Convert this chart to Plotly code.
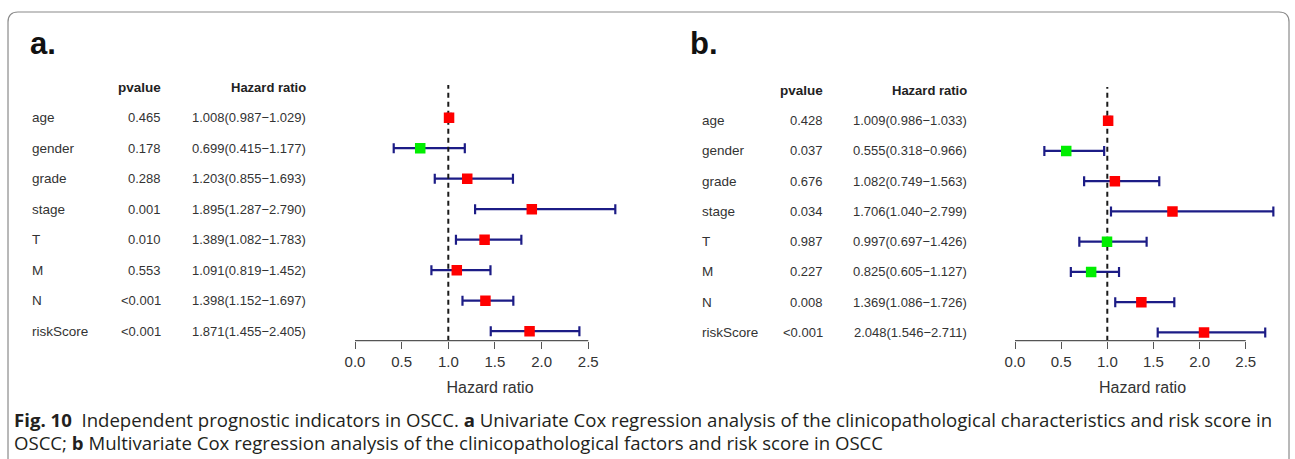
import plotly.graph_objects as go

W, H = 1295, 459

# ---------------- data ----------------
variables = ["age", "gender", "grade", "stage", "T", "M", "N", "riskScore"]

a_pvalue = ["0.465", "0.178", "0.288", "0.001", "0.010", "0.553", "<0.001", "<0.001"]
a_hr = [1.008, 0.699, 1.203, 1.895, 1.389, 1.091, 1.398, 1.871]
a_low = [0.987, 0.415, 0.855, 1.287, 1.082, 0.819, 1.152, 1.455]
a_high = [1.029, 1.177, 1.693, 2.790, 1.783, 1.452, 1.697, 2.405]

b_pvalue = ["0.428", "0.037", "0.676", "0.034", "0.987", "0.227", "0.008", "<0.001"]
b_hr = [1.009, 0.555, 1.082, 1.706, 0.997, 0.825, 1.369, 2.048]
b_low = [0.986, 0.318, 0.749, 1.040, 0.697, 0.605, 1.086, 1.546]
b_high = [1.033, 0.966, 1.563, 2.799, 1.426, 1.127, 1.726, 2.711]

tick_vals = [0, 0.5, 1.0, 1.5, 2.0, 2.5]
tick_text = ["0.0", "0.5", "1.0", "1.5", "2.0", "2.5"]

caption_1 = ("<b>Fig.\u00a010</b>\u00a0\u00a0Independent prognostic indicators in OSCC. <b>a</b> Univariate Cox regression "
             "analysis of the clinicopathological characteristics and risk score in")
caption_2 = "OSCC; <b>b</b> Multivariate Cox regression analysis of the clinicopathological factors and risk score in OSCC"

# ---------------- style ----------------
FONT = "Liberation Sans, Arial, sans-serif"
TXT = 13
CI_COLOR = "#1c1c86"
RED = "#ff0000"
GREEN = "#00ee00"


def px_x(p):
    return p / W


def px_y(p):
    return 1 - p / H


fig = go.Figure()

panels = [
    dict(name="a", pv=a_pvalue, hr=a_hr, lo=a_low, hi=a_high, xa="x", ya="y",
         xdom=(340, 640), x0px=355, ppu=93.3, ybot=340.7, ytop=85, row0=117.7, dy=30.5,
         lab_x=30, pv_x=163, hr_x=308, letter_x=28),
    dict(name="b", pv=b_pvalue, hr=b_hr, lo=b_low, hi=b_high, xa="x2", ya="y2",
         xdom=(1000, 1285), x0px=1015, ppu=92.3, ybot=340.7, ytop=87, row0=120.7, dy=30.25,
         lab_x=700, pv_x=825, hr_x=969, letter_x=688),
]

annotations = []
shapes = []
layout_axes = {}

for k, p in enumerate(panels):
    rows = list(range(len(variables)))
    hr, lo, hi = p["hr"], p["lo"], p["hi"]
    # CI bars
    fig.add_trace(go.Scatter(
        x=hr, y=rows, mode="markers", xaxis=p["xa"], yaxis=p["ya"],
        marker=dict(size=1, color="rgba(0,0,0,0)"),
        error_x=dict(type="data", symmetric=False,
                     array=[h - v for h, v in zip(hi, hr)],
                     arrayminus=[v - l for v, l in zip(hr, lo)],
                     color=CI_COLOR, thickness=2.2, width=5),
        showlegend=False, hoverinfo="skip"))
    # reference line at HR = 1
    yr_bot = (p["ybot"] - p["row0"]) / p["dy"]
    yr_top = (p["ytop"] - p["row0"]) / p["dy"]
    fig.add_trace(go.Scatter(
        x=[1, 1], y=[yr_bot, yr_top], mode="lines", xaxis=p["xa"], yaxis=p["ya"],
        line=dict(color="#1a1a1a", width=2, dash="5px,4px"),
        showlegend=False, hoverinfo="skip"))
    # point estimates
    fig.add_trace(go.Scatter(
        x=hr, y=rows, mode="markers", xaxis=p["xa"], yaxis=p["ya"],
        marker=dict(symbol="square", size=10.5,
                    color=[RED if v > 1 else GREEN for v in hr], line=dict(width=0)),
        showlegend=False))

    xr = [(p["xdom"][0] - p["x0px"]) / p["ppu"], (p["xdom"][1] - p["x0px"]) / p["ppu"]]
    suffix = "" if k == 0 else "2"
    layout_axes["xaxis" + suffix] = dict(
        domain=[px_x(p["xdom"][0]), px_x(p["xdom"][1])], range=xr, anchor="y" + suffix,
        showgrid=False, zeroline=False, showline=False,
        tickmode="array", tickvals=tick_vals, ticktext=tick_text,
        ticks="outside", ticklen=7, tickwidth=1.2, tickcolor="#555555",
        tickfont=dict(family=FONT, size=15, color="#333333"),
        title=dict(text="Hazard ratio", font=dict(family=FONT, size=16, color="#333333"), standoff=13))
    layout_axes["yaxis" + suffix] = dict(
        domain=[px_y(p["ybot"]), px_y(p["ytop"])], range=[yr_bot, yr_top], anchor="x" + suffix,
        visible=False, showgrid=False, zeroline=False)

    # axis line from 0 to 2.5
    shapes.append(dict(type="line", xref=p["xa"], yref=p["ya"] + " domain",
                       x0=tick_vals[0], x1=tick_vals[-1], y0=0, y1=0,
                       line=dict(color="#555555", width=1.3)))

    # header row (row index -1)
    yref = p["ya"]
    annotations.append(dict(text="<b>pvalue</b>", xref="paper", yref=yref, x=px_x(p["pv_x"]), y=-1,
                            xanchor="right", yanchor="middle", showarrow=False,
                            font=dict(family=FONT, size=13.5, color="#222222")))
    annotations.append(dict(text="<b>Hazard ratio</b>", xref="paper", yref=yref, x=px_x(p["hr_x"]), y=-1,
                            xanchor="right", yanchor="middle", showarrow=False,
                            font=dict(family=FONT, size=13, color="#222222")))
    for i, var in enumerate(variables):
        annotations.append(dict(text=var, xref="paper", yref=yref, x=px_x(p["lab_x"]), y=i,
                                xanchor="left", yanchor="middle", showarrow=False,
                                font=dict(family=FONT, size=13.5, color="#333333")))
        annotations.append(dict(text=p["pv"][i], xref="paper", yref=yref, x=px_x(p["pv_x"]), y=i,
                                xanchor="right", yanchor="middle", showarrow=False,
                                font=dict(family=FONT, size=TXT, color="#333333")))
        hr_txt = f"{hr[i]:.3f}({lo[i]:.3f}\u2212{hi[i]:.3f})"
        annotations.append(dict(text=hr_txt, xref="paper", yref=yref, x=px_x(p["hr_x"]), y=i,
                                xanchor="right", yanchor="middle", showarrow=False,
                                font=dict(family=FONT, size=TXT, color="#333333")))
    # panel letter
    annotations.append(dict(text=f"<b>{p['name']}.</b>", xref="paper", yref="paper",
                            x=px_x(p["letter_x"]), y=px_y(43), xanchor="left", yanchor="middle",
                            showarrow=False, font=dict(family=FONT, size=31, color="#111111")))

# caption
CAP_FONT = "Open Sans, sans-serif"
annotations.append(dict(text=caption_1, xref="paper", yref="paper", x=px_x(12), y=px_y(419),
                        xanchor="left", yanchor="middle", showarrow=False, align="left",
                        font=dict(family=CAP_FONT, size=18.6, color="#231f20")))
annotations.append(dict(text=caption_2, xref="paper", yref="paper", x=px_x(12), y=px_y(442),
                        xanchor="left", yanchor="middle", showarrow=False, align="left",
                        font=dict(family=CAP_FONT, size=18.6, color="#231f20")))

# rounded frame (open at bottom)
L, R, T, B, r = 8, 1289, 12, 470, 10
frame_pts = [
    ("M", [(L, B)]), ("L", [(L, T + r)]), ("Q", [(L, T), (L + r, T)]),
    ("L", [(R - r, T)]), ("Q", [(R, T), (R, T + r)]), ("L", [(R, B)]),
]
path = " ".join(cmd + " " + " ".join(f"{px_x(x):.5f},{px_y(y):.5f}" for x, y in pts)
                for cmd, pts in frame_pts)
shapes.append(dict(type="path", xref="paper", yref="paper", path=path,
                   line=dict(color="#8a8a8a", width=1.2)))

fig.update_layout(
    width=W, height=H, margin=dict(l=0, r=0, t=0, b=0),
    paper_bgcolor="white", plot_bgcolor="white",
    annotations=annotations, shapes=shapes, **layout_axes)

fig.write_html("out.html")
